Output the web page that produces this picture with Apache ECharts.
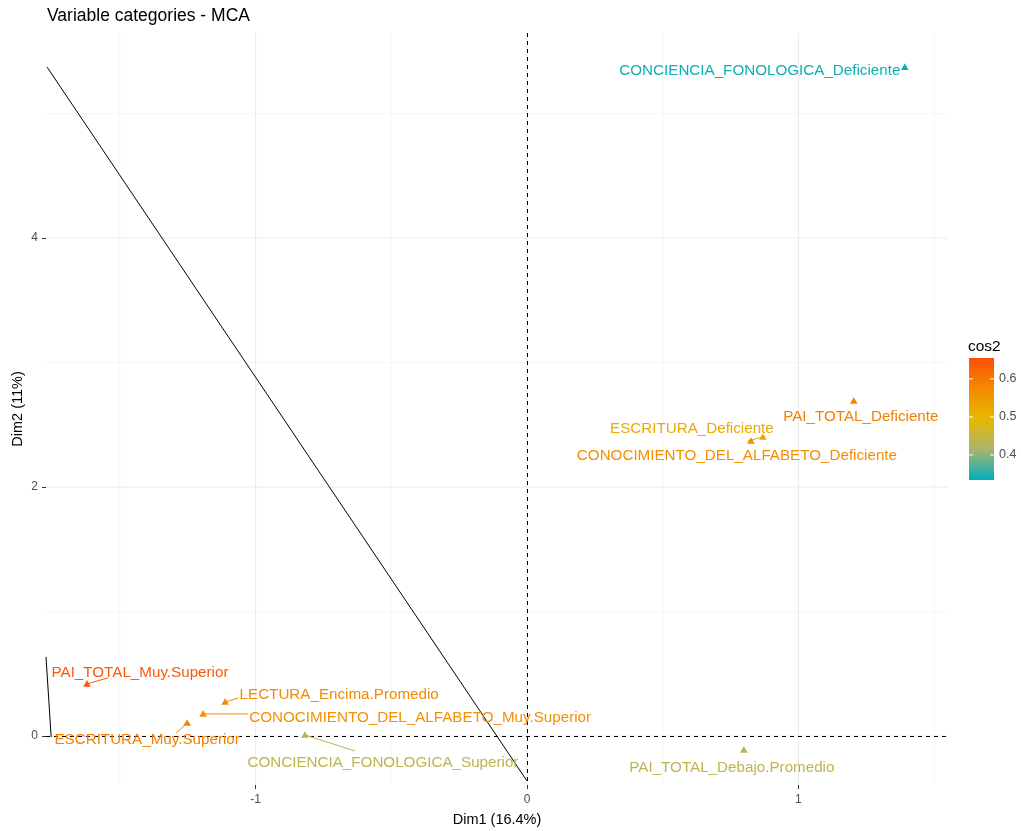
<!DOCTYPE html>
<html>
<head>
<meta charset="utf-8">
<script src="https://cdn.jsdelivr.net/npm/echarts@6/dist/echarts.min.js"></script>
<style>
html,body{margin:0;padding:0;background:#fff;}
#chart{width:1021px;height:831px;}
</style>
</head>
<body>
<div id="chart"></div>
<script>
// ---- data ----
const categories = [
  'CONCIENCIA_FONOLOGICA_Deficiente',
  'PAI_TOTAL_Deficiente',
  'ESCRITURA_Deficiente',
  'CONOCIMIENTO_DEL_ALFABETO_Deficiente',
  'PAI_TOTAL_Debajo.Promedio',
  'PAI_TOTAL_Muy.Superior',
  'LECTURA_Encima.Promedio',
  'CONOCIMIENTO_DEL_ALFABETO_Muy.Superior',
  'ESCRITURA_Muy.Superior',
  'CONCIENCIA_FONOLOGICA_Superior'
];
const dim1 = [1.392, 1.204, 0.869, 0.825, 0.799, -1.621, -1.112, -1.193, -1.252, -0.818];
const dim2 = [5.373, 2.691, 2.402, 2.369, -0.112, 0.418, 0.273, 0.177, 0.104, 0.008];
const cos2 = [0.34, 0.59, 0.52, 0.57, 0.44, 0.64, 0.575, 0.565, 0.59, 0.44];
const xTicks = [-1, 0, 1];
const yTicks = [0, 2, 4];
const xMinorGrid = [-1.5, -0.5, 0.5, 1.5];
const yMinorGrid = [1, 3, 5];
const legendTicks = [0.4, 0.5, 0.6];
const diagLineX = [-1.768, 0.0];
const diagLineY = [5.373, -0.361];
const shortLineX = [-1.772, -1.753];
const shortLineY = [0.635, -0.008];

// ---- style / layout ----
const cosMin = 0.334, cosMax = 0.655;
const gradColors = ['#00AFBB', '#A9B36F', '#E7B800', '#F48A00', '#FC4E07'];
const FONT = '"Liberation Sans", Arial, Helvetica, sans-serif';
// label centre offset (px) from point, and optional segment start offset
const labelLayout = [
  {dx: -145, dy: 4},
  {dx: 7, dy: 16},
  {dx: -71, dy: -8, seg: [-15, 4]},
  {dx: -14, dy: 15},
  {dx: -12, dy: 18},
  {dx: 53, dy: -11, seg: [21, -6]},
  {dx: 114, dy: -7, seg: [13, -4]},
  {dx: 217, dy: 4, seg: [45, 0]},
  {dx: -40, dy: 17, seg: [-11, 10]},
  {dx: 78, dy: 28, seg: [50, 16]}
];
const gridStyles = {
  xMajor: {stroke: '#EBEBEB', lineWidth: 1.1},
  xMinor: {stroke: '#F2F2F2', lineWidth: 0.8},
  yMajor: {stroke: '#EBEBEB', lineWidth: 1.1},
  yMinor: {stroke: '#F2F2F2', lineWidth: 0.8},
  xZero: {stroke: '#000', lineWidth: 1, lineDash: [4, 4]},
  yZero: {stroke: '#000', lineWidth: 1, lineDash: [4, 4]}
};

const chart = echarts.init(document.getElementById('chart'), null, {renderer: 'canvas'});

const gridLeft = 46, gridTop = 33, gridRight = 73, gridBottom = 46;

const ptData = dim1.map((x, i) => [x, dim2[i], cos2[i]]);

const gridLineData = [].concat(
  xMinorGrid.map(v => [v, 0, 'xMinor']),
  yMinorGrid.map(v => [0, v, 'yMinor']),
  xTicks.map(v => [v, 0, 'xMajor']),
  yTicks.map(v => [0, v, 'yMajor'])
);
const zeroLineData = [[0, 0, 'xZero'], [0, 0, 'yZero']];

function gridRender(params, api) {
  const cs = params.coordSys;
  const kind = api.value(2);
  const p = api.coord([api.value(0), api.value(1)]);
  const crisp = kind.indexOf('Zero') > 0;
  const px = crisp ? Math.round(p[0]) + 0.5 : p[0];
  const py = crisp ? Math.round(p[1]) + 0.5 : p[1];
  let shape;
  if (kind.charAt(0) === 'x') {
    shape = {x1: px, y1: cs.y, x2: px, y2: cs.y + cs.height};
  } else {
    shape = {x1: cs.x, y1: py, x2: cs.x + cs.width, y2: py};
  }
  return {type: 'line', shape: shape, style: Object.assign({fill: null}, gridStyles[kind])};
}

// legend bar geometry
const barX = 969, barY = 358, barW = 25, barH = 122;
function legendY(v) { return barY + barH - (v - cosMin) / (cosMax - cosMin) * barH; }
const legendGraphics = [
  {type: 'text', left: 968, top: 339, style: {text: 'cos2', fontSize: 15.5, fontFamily: FONT, fill: '#000'}},
  {type: 'rect', shape: {x: barX, y: barY, width: barW, height: barH},
   style: {fill: new echarts.graphic.LinearGradient(0, 1, 0, 0,
     gradColors.map((c, i) => ({offset: i / (gradColors.length - 1), color: c})))}}
];
legendTicks.forEach(v => {
  const y = legendY(v);
  legendGraphics.push({type: 'line', shape: {x1: barX, y1: y, x2: barX + 4, y2: y}, style: {stroke: '#fff', lineWidth: 1}});
  legendGraphics.push({type: 'line', shape: {x1: barX + barW - 4, y1: y, x2: barX + barW, y2: y}, style: {stroke: '#fff', lineWidth: 1}});
  legendGraphics.push({type: 'text', x: barX + barW + 5, y: y, style: {text: v.toFixed(1), fontSize: 12.5, fontFamily: FONT, fill: '#4D4D4D', verticalAlign: 'middle'}});
});

const option = {
  animation: false,
  backgroundColor: '#fff',
  title: {
    text: 'Variable categories - MCA', left: 47, top: 7, padding: 0,
    textStyle: {fontSize: 17.5, fontWeight: 'normal', fontFamily: FONT, color: '#000'}
  },
  grid: {left: gridLeft, top: gridTop, right: gridRight, bottom: gridBottom, containLabel: false, outerBoundsMode: 'none'},
  xAxis: {
    type: 'value', min: -1.772, max: 1.551,
    name: 'Dim1 (16.4%)', nameLocation: 'middle', nameGap: 27, nameMoveOverlap: false,
    nameTextStyle: {fontSize: 14.5, fontFamily: FONT, color: '#000'},
    axisLine: {show: false, onZero: false},
    splitLine: {show: false},
    axisTick: {show: true, length: 4, customValues: xTicks, lineStyle: {color: '#333'}},
    axisLabel: {customValues: xTicks, margin: 9, fontSize: 12, fontFamily: FONT, color: '#4D4D4D'}
  },
  yAxis: {
    type: 'value', min: -0.394, max: 5.647,
    name: 'Dim2 (11%)', nameLocation: 'middle', nameGap: 21, nameMoveOverlap: false,
    nameTextStyle: {fontSize: 14.5, fontFamily: FONT, color: '#000'},
    axisLine: {show: false, onZero: false},
    splitLine: {show: false},
    axisTick: {show: true, length: 4, customValues: yTicks, lineStyle: {color: '#333'}},
    axisLabel: {customValues: yTicks, margin: 8, fontSize: 12, fontFamily: FONT, color: '#4D4D4D'}
  },
  visualMap: {
    type: 'continuous', show: false, dimension: 2, seriesIndex: 5,
    min: cosMin, max: cosMax, inRange: {color: gradColors}
  },
  graphic: legendGraphics,
  series: [
    {
      type: 'custom', z: 0, silent: true, clip: false,
      data: gridLineData, encode: {x: 0, y: 1},
      renderItem: gridRender
    },
    {
      type: 'custom', z: 1, silent: true, clip: false,
      data: zeroLineData, encode: {x: 0, y: 1},
      renderItem: gridRender
    },
    {
      type: 'line', data: diagLineX.map((x, i) => [x, diagLineY[i]]),
      symbol: 'none', lineStyle: {color: '#000', width: 1}, z: 2, silent: true
    },
    {
      type: 'line', data: shortLineX.map((x, i) => [x, shortLineY[i]]),
      symbol: 'none', lineStyle: {color: '#000', width: 1}, z: 2, silent: true
    },
    {type: 'line', data: [], silent: true},
    {
      type: 'custom', z: 3, clip: false,
      data: ptData,
      encode: {x: 0, y: 1},
      renderItem: function (params, api) {
        const i = params.dataIndex;
        const p = api.coord([api.value(0), api.value(1)]);
        const c = api.visual('color');
        const L = labelLayout[i];
        const children = [];
        if (L.seg) {
          children.push({type: 'line', shape: {x1: p[0] + L.seg[0], y1: p[1] + L.seg[1], x2: p[0], y2: p[1]},
            style: {stroke: c, lineWidth: 1}});
        }
        children.push({type: 'polygon',
          shape: {points: [[p[0], p[1] - 3.8], [p[0] - 3.8, p[1] + 2.8], [p[0] + 3.8, p[1] + 2.8]]},
          style: {fill: c}});
        children.push({type: 'text', x: p[0] + L.dx, y: p[1] + L.dy,
          style: {text: categories[i], fill: c, fontSize: 15.2, fontFamily: FONT,
            align: 'center', verticalAlign: 'middle'}});
        return {type: 'group', children: children};
      }
    }
  ]
};
chart.setOption(option);
</script>
</body>
</html>
